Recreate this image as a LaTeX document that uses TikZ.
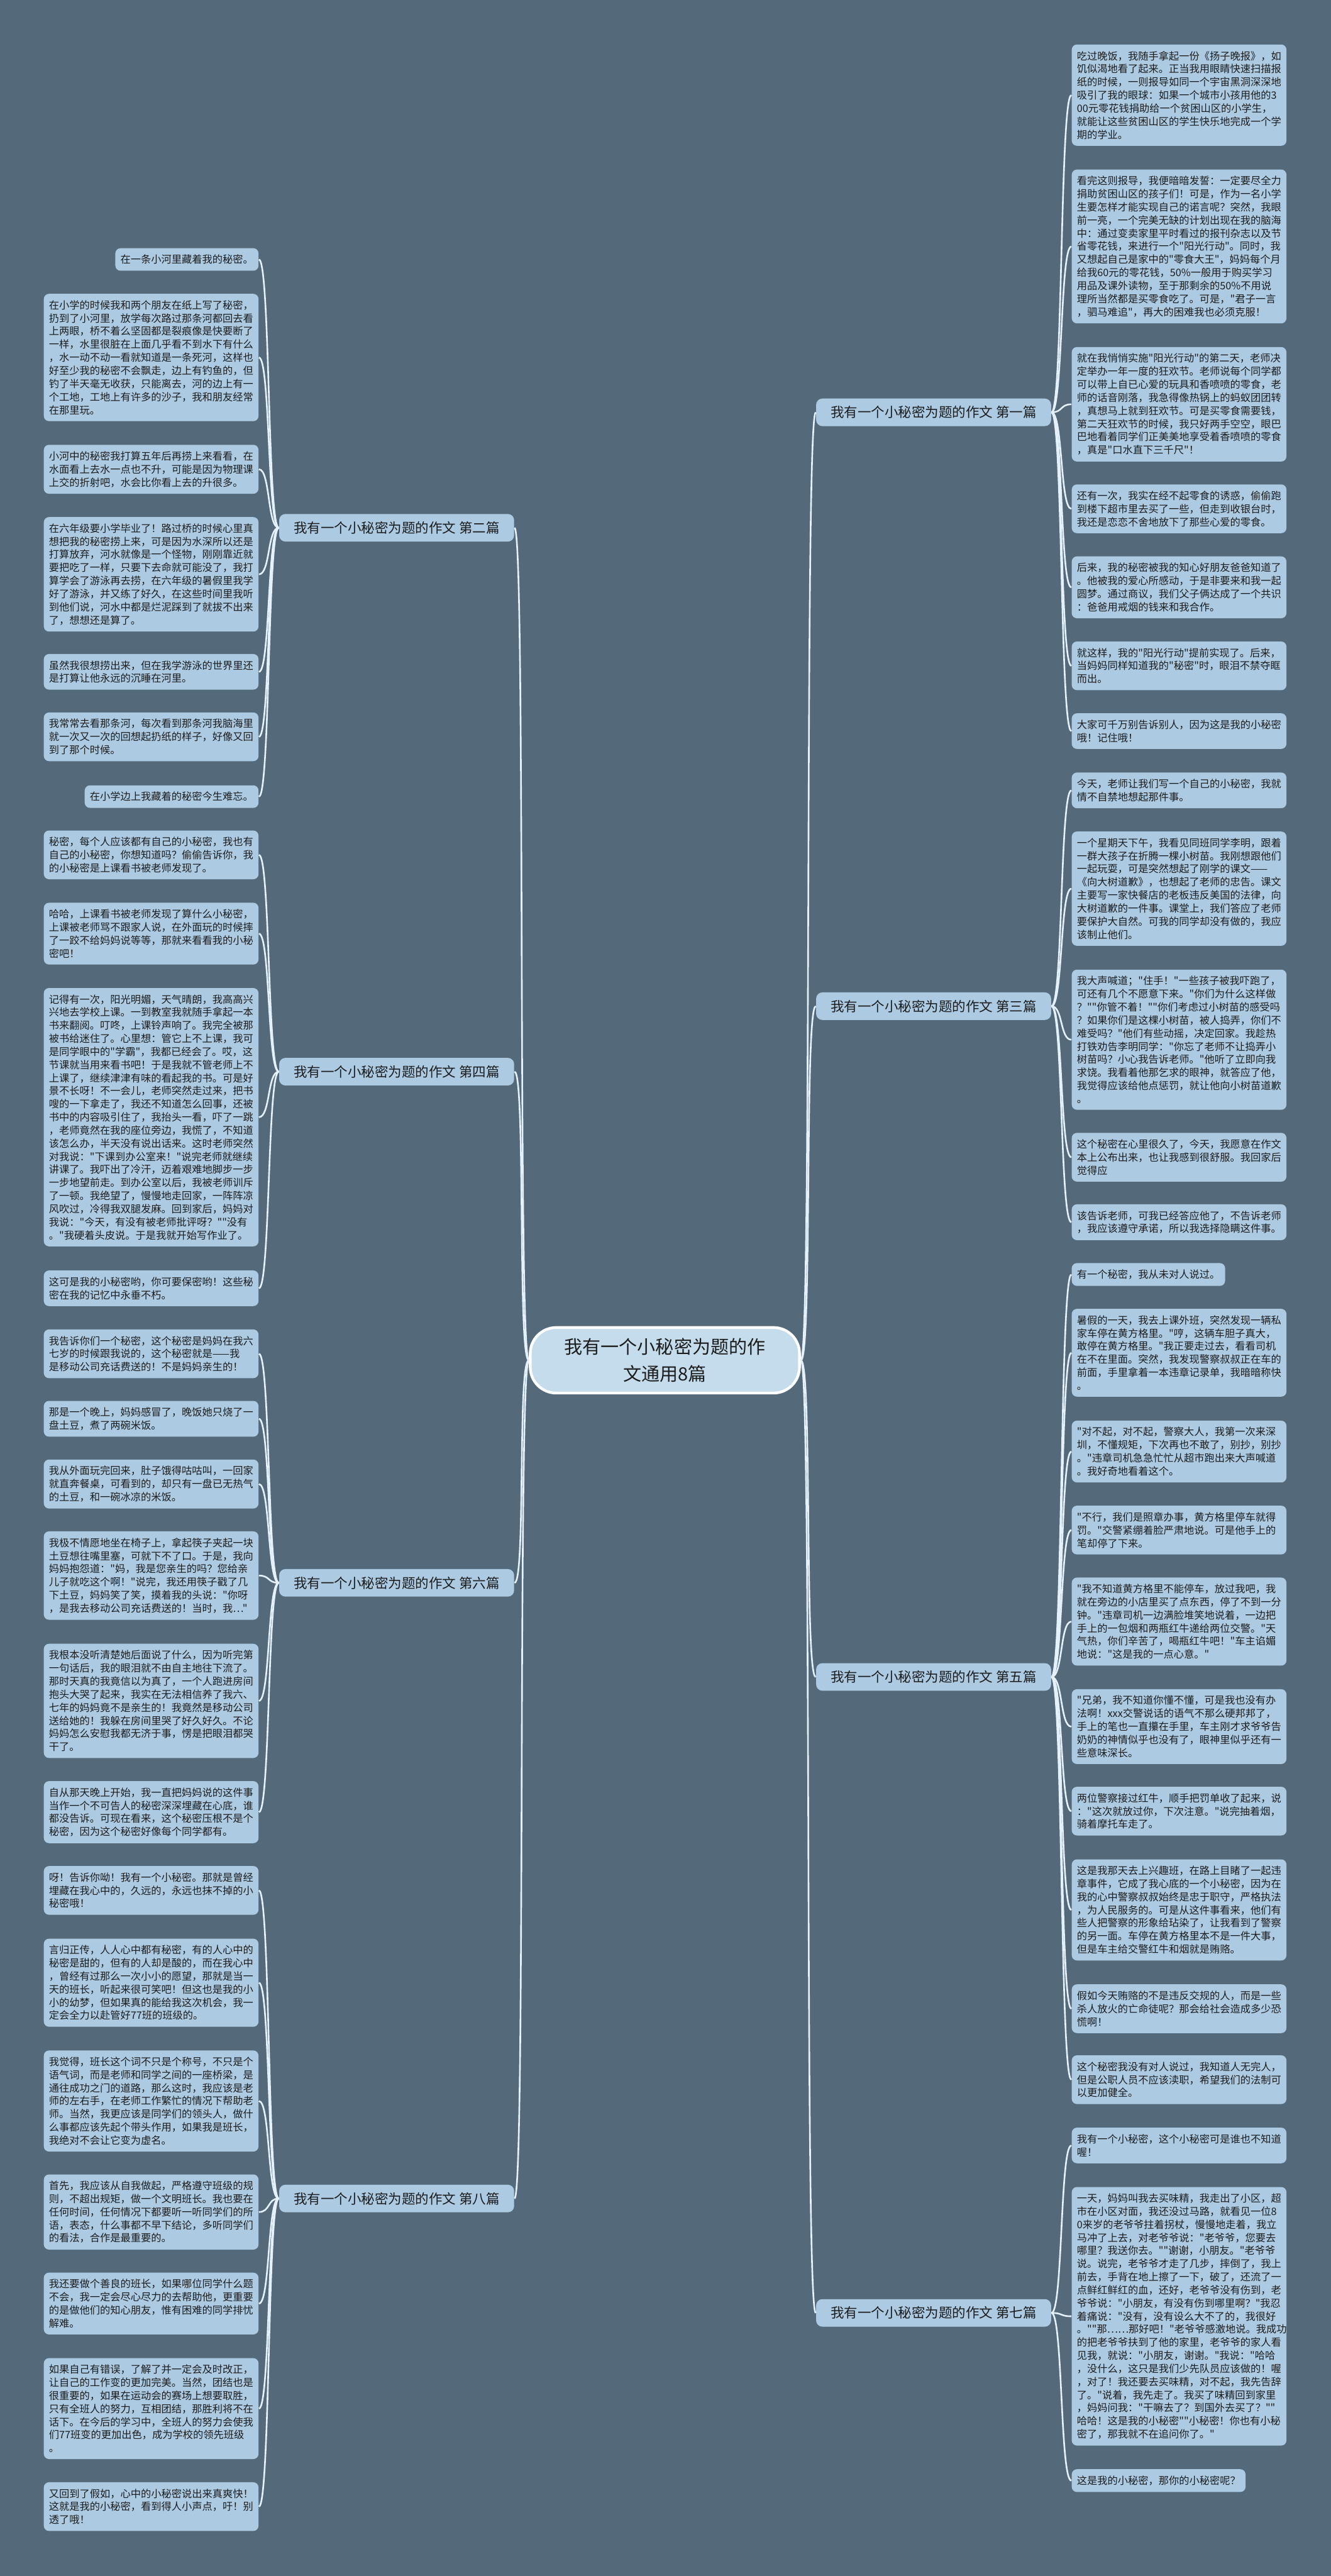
\documentclass[tikz,border=0pt]{standalone}
\usepackage{fontspec}
\usepackage{xcolor}
\usetikzlibrary{positioning}
\newfontfamily\cjk{Noto Sans CJK SC}
\definecolor{bgc}{HTML}{546A7B}
\definecolor{leafc}{HTML}{ACCBE3}
\definecolor{rootc}{HTML}{C4DCEC}
\definecolor{inkc}{HTML}{1C1C1C}
\definecolor{linkc}{HTML}{E4F1FA}

\begin{document}
\begin{tikzpicture}[
    leaf/.style={fill=leafc, rounded corners=0.1cm, text=inkc, inner xsep=0.1cm, inner ysep=0.125cm,
                 text width=3.93cm, align=left, font=\cjk\fontsize{5.59pt}{7.17pt}\selectfont},
    note/.style={fill=leafc, rounded corners=0.1cm, text=inkc, inner xsep=0.1cm, inner ysep=0.125cm,
                 font=\cjk\fontsize{5.59pt}{7.17pt}\selectfont},
    essay/.style={fill=leafc, rounded corners=0.12cm, text=inkc, inner sep=0pt,
                  minimum width=4.52cm, minimum height=0.53cm, font=\cjk\fontsize{7.4pt}{8pt}\selectfont},
    topic/.style={fill=rootc, draw=white, line width=1.5pt, rounded corners=0.5cm, text=inkc,
                  minimum width=5.18cm, minimum height=1.26cm, align=center, inner sep=0pt,
                  font=\cjk\fontsize{10pt}{15pt}\selectfont},
    link/.style={draw=linkc, line width=0.9pt, out distance=0.22cm, in distance=0.22cm}]
\fill[bgc] (0,0) rectangle (25.6,-49.54);
\useasboundingbox (0,0) rectangle (25.6,-49.54);

\node[topic] (root) at (12.79,-26.16) {我有一个小秘密为题的作\\文通用8篇};

\node[essay] (essay1) at (17.96,-7.93)  {我有一个小秘密为题的作文 第一篇};
\node[essay] (essay3) at (17.96,-19.35) {我有一个小秘密为题的作文 第三篇};
\node[essay] (essay5) at (17.96,-32.25) {我有一个小秘密为题的作文 第五篇};
\node[essay] (essay7) at (17.96,-44.48) {我有一个小秘密为题的作文 第七篇};
\node[essay] (essay2) at (7.63,-10.15)  {我有一个小秘密为题的作文 第二篇};
\node[essay] (essay4) at (7.63,-20.61)  {我有一个小秘密为题的作文 第四篇};
\node[essay] (essay6) at (7.63,-30.44)  {我有一个小秘密为题的作文 第六篇};
\node[essay] (essay8) at (7.63,-42.28)  {我有一个小秘密为题的作文 第八篇};

% first essay
\node[leaf, anchor=west] (e1a) at (20.61,-1.83) {吃过晚饭，我随手拿起一份《扬子晚报》，如\\
饥似渴地看了起来。正当我用眼睛快速扫描报\\
纸的时候，一则报导如同一个宇宙黑洞深深地\\
吸引了我的眼球：如果一个城市小孩用他的3\\
00元零花钱捐助给一个贫困山区的小学生，\\
就能让这些贫困山区的学生快乐地完成一个学\\
期的学业。};
\node[leaf, anchor=west] (e1b) at (20.61,-4.74) {看完这则报导，我便暗暗发誓：一定要尽全力\\
捐助贫困山区的孩子们！可是，作为一名小学\\
生要怎样才能实现自己的诺言呢？突然，我眼\\
前一亮，一个完美无缺的计划出现在我的脑海\\
中：通过变卖家里平时看过的报刊杂志以及节\\
省零花钱，来进行一个"阳光行动"。同时，我\\
又想起自己是家中的"零食大王"，妈妈每个月\\
给我60元的零花钱，50\%一般用于购买学习\\
用品及课外读物，至于那剩余的50\%不用说\\
理所当然都是买零食吃了。可是，"君子一言\\
，驷马难追"，再大的困难我也必须克服！};
\node[leaf, anchor=west] (e1c) at (20.61,-7.775) {就在我悄悄实施"阳光行动"的第二天，老师决\\
定举办一年一度的狂欢节。老师说每个同学都\\
可以带上自已心爱的玩具和香喷喷的零食，老\\
师的话音刚落，我急得像热锅上的蚂蚁团团转\\
，真想马上就到狂欢节。可是买零食需要钱，\\
第二天狂欢节的时候，我只好两手空空，眼巴\\
巴地看着同学们正美美地享受着香喷喷的零食\\
，真是"口水直下三千尺"！};
\node[leaf, anchor=west] (e1d) at (20.61,-9.785) {还有一次，我实在经不起零食的诱惑，偷偷跑\\
到楼下超市里去买了一些，但走到收银台时，\\
我还是恋恋不舍地放下了那些心爱的零食。};
\node[leaf, anchor=west] (e1e) at (20.61,-11.295) {后来，我的秘密被我的知心好朋友爸爸知道了\\
。他被我的爱心所感动，于是非要来和我一起\\
圆梦。通过商议，我们父子俩达成了一个共识\\
：爸爸用戒烟的钱来和我合作。};
\node[leaf, anchor=west] (e1f) at (20.61,-12.805) {就这样，我的"阳光行动"提前实现了。后来，\\
当妈妈同样知道我的"秘密"时，眼泪不禁夺眶\\
而出。};
\node[leaf, anchor=west] (e1g) at (20.61,-14.06) {大家可千万别告诉别人，因为这是我的小秘密\\
哦！记住哦！};

% third essay
\node[leaf, anchor=west] (e3a) at (20.61,-15.2) {今天，老师让我们写一个自己的小秘密，我就\\
情不自禁地想起那件事。};
\node[leaf, anchor=west] (e3b) at (20.61,-17.09) {一个星期天下午，我看见同班同学李明，跟着\\
一群大孩子在折腾一棵小树苗。我刚想跟他们\\
一起玩耍，可是突然想起了刚学的课文——\\
《向大树道歉》，也想起了老师的忠告。课文\\
主要写一家快餐店的老板违反美国的法律，向\\
大树道歉的一件事。课堂上，我们答应了老师\\
要保护大自然。可我的同学却没有做的，我应\\
该制止他们。};
\node[leaf, anchor=west] (e3c) at (20.61,-19.995) {我大声喊道；"住手！"一些孩子被我吓跑了，\\
可还有几个不愿意下来。"你们为什么这样做\\
？""你管不着！""你们考虑过小树苗的感受吗\\
？如果你们是这棵小树苗，被人捣弄，你们不\\
难受吗？"他们有些动摇，决定回家。我趁热\\
打铁劝告李明同学："你忘了老师不让捣弄小\\
树苗吗？小心我告诉老师。"他听了立即向我\\
求饶。我看着他那乞求的眼神，就答应了他，\\
我觉得应该给他点惩罚，就让他向小树苗道歉\\
。};
\node[leaf, anchor=west] (e3d) at (20.61,-22.255) {这个秘密在心里很久了，今天，我愿意在作文\\
本上公布出来，也让我感到很舒服。我回家后\\
觉得应};
\node[leaf, anchor=west] (e3e) at (20.61,-23.505) {该告诉老师，可我已经答应他了，不告诉老师\\
，我应该遵守承诺，所以我选择隐瞒这件事。};

% fifth essay
\node[note, anchor=west] (e5a) at (20.61,-24.51) {有一个秘密，我从未对人说过。};
\node[leaf, anchor=west] (e5b) at (20.61,-26.015) {暑假的一天，我去上课外班，突然发现一辆私\\
家车停在黄方格里。"哼，这辆车胆子真大，\\
敢停在黄方格里。"我正要走过去，看看司机\\
在不在里面。突然，我发现警察叔叔正在车的\\
前面，手里拿着一本违章记录单，我暗暗称快\\
。};
\node[leaf, anchor=west] (e5c) at (20.61,-27.915) {"对不起，对不起，警察大人，我第一次来深\\
圳，不懂规矩，下次再也不敢了，别抄，别抄\\
。"违章司机急急忙忙从超市跑出来大声喊道\\
。我好奇地看着这个。};
\node[leaf, anchor=west] (e5d) at (20.61,-29.425) {"不行，我们是照章办事，黄方格里停车就得\\
罚。"交警紧绷着脸严肃地说。可是他手上的\\
笔却停了下来。};
\node[leaf, anchor=west] (e5e) at (20.61,-31.185) {"我不知道黄方格里不能停车，放过我吧，我\\
就在旁边的小店里买了点东西，停了不到一分\\
钟。"违章司机一边满脸堆笑地说着，一边把\\
手上的一包烟和两瓶红牛递给两位交警。"天\\
气热，你们辛苦了，喝瓶红牛吧！"车主谄媚\\
地说："这是我的一点心意。"};
\node[leaf, anchor=west] (e5f) at (20.61,-33.205) {"兄弟，我不知道你懂不懂，可是我也没有办\\
法啊！xxx交警说话的语气不那么硬邦邦了，\\
手上的笔也一直攥在手里，车主刚才求爷爷告\\
奶奶的神情似乎也没有了，眼神里似乎还有一\\
些意味深长。};
\node[leaf, anchor=west] (e5g) at (20.61,-34.83) {两位警察接过红牛，顺手把罚单收了起来，说\\
："这次就放过你，下次注意。"说完抽着烟，\\
骑着摩托车走了。};
\node[leaf, anchor=west] (e5h) at (20.61,-36.73) {这是我那天去上兴趣班，在路上目睹了一起违\\
章事件，它成了我心底的一个小秘密，因为在\\
我的心中警察叔叔始终是忠于职守，严格执法\\
，为人民服务的。可是从这件事看来，他们有\\
些人把警察的形象给玷染了，让我看到了警察\\
的另一面。车停在黄方格里本不是一件大事，\\
但是车主给交警红牛和烟就是贿赂。};
\node[leaf, anchor=west] (e5i) at (20.61,-38.63) {假如今天贿赂的不是违反交规的人，而是一些\\
杀人放火的亡命徒呢？那会给社会造成多少恐\\
慌啊！};
\node[leaf, anchor=west] (e5j) at (20.61,-39.995) {这个秘密我没有对人说过，我知道人无完人，\\
但是公职人员不应该渎职，希望我们的法制可\\
以更加健全。};

% seventh essay
\node[leaf, anchor=west] (e7a) at (20.61,-41.26) {我有一个小秘密，这个小秘密可是谁也不知道\\
喔！};
\node[leaf, anchor=west] (e7b) at (20.61,-44.545) {一天，妈妈叫我去买味精，我走出了小区，超\\
市在小区对面，我还没过马路，就看见一位8\\
0来岁的老爷爷拄着拐杖，慢慢地走着，我立\\
马冲了上去，对老爷爷说："老爷爷，您要去\\
哪里？我送你去。""谢谢，小朋友。"老爷爷\\
说。说完，老爷爷才走了几步，摔倒了，我上\\
前去，手背在地上擦了一下，破了，还流了一\\
点鲜红鲜红的血，还好，老爷爷没有伤到，老\\
爷爷说："小朋友，有没有伤到哪里啊？"我忍\\
着痛说："没有，没有设么大不了的，我很好\\
。""那……那好吧！"老爷爷感激地说。我成功\\
的把老爷爷扶到了他的家里，老爷爷的家人看\\
见我，就说："小朋友，谢谢。"我说："哈哈\\
，没什么，这只是我们少先队员应该做的！喔\\
，对了！我还要去买味精，对不起，我先告辞\\
了。"说着，我先走了。我买了味精回到家里\\
，妈妈问我："干嘛去了？到国外去买了？""\\
哈哈！这是我的小秘密""小秘密！你也有小秘\\
密了，那我就不在追问你了。"};
\node[note, anchor=west] (e7c) at (20.61,-47.705) {这是我的小秘密，那你的小秘密呢？};

% second essay
\node[note, anchor=east] (e2a) at (4.98,-4.99) {在一条小河里藏着我的秘密。};
\node[leaf, anchor=east] (e2b) at (4.98,-6.875) {在小学的时候我和两个朋友在纸上写了秘密，\\
扔到了小河里，放学每次路过那条河都回去看\\
上两眼，桥不着么坚固都是裂痕像是快要断了\\
一样，水里很脏在上面几乎看不到水下有什么\\
，水一动不动一看就知道是一条死河，这样也\\
好至少我的秘密不会飘走，边上有钓鱼的，但\\
钓了半天毫无收获，只能离去，河的边上有一\\
个工地，工地上有许多的沙子，我和朋友经常\\
在那里玩。};
\node[leaf, anchor=east] (e2c) at (4.98,-9.025) {小河中的秘密我打算五年后再捞上来看看，在\\
水面看上去水一点也不升，可能是因为物理课\\
上交的折射吧，水会比你看上去的升很多。};
\node[leaf, anchor=east] (e2d) at (4.98,-11.045) {在六年级要小学毕业了！路过桥的时候心里真\\
想把我的秘密捞上来，可是因为水深所以还是\\
打算放弃，河水就像是一个怪物，刚刚靠近就\\
要把吃了一样，只要下去命就可能没了，我打\\
算学会了游泳再去捞，在六年级的暑假里我学\\
好了游泳，并又练了好久，在这些时间里我听\\
到他们说，河水中都是烂泥踩到了就拔不出来\\
了，想想还是算了。};
\node[leaf, anchor=east] (e2e) at (4.98,-12.92) {虽然我很想捞出来，但在我学游泳的世界里还\\
是打算让他永远的沉睡在河里。};
\node[leaf, anchor=east] (e2f) at (4.98,-14.17) {我常常去看那条河，每次看到那条河我脑海里\\
就一次又一次的回想起扔纸的样子，好像又回\\
到了那个时候。};
\node[note, anchor=east] (e2g) at (4.98,-15.32) {在小学边上我藏着的秘密今生难忘。};

% fourth essay
\node[leaf, anchor=east] (e4a) at (4.98,-16.44) {秘密，每个人应该都有自己的小秘密，我也有\\
自己的小秘密，你想知道吗？偷偷告诉你，我\\
的小秘密是上课看书被老师发现了。};
\node[leaf, anchor=east] (e4b) at (4.98,-17.955) {哈哈，上课看书被老师发现了算什么小秘密，\\
上课被老师骂不跟家人说，在外面玩的时候摔\\
了一跤不给妈妈说等等，那就来看看我的小秘\\
密吧！};
\node[leaf, anchor=east] (e4c) at (4.98,-21.485) {记得有一次，阳光明媚，天气晴朗，我高高兴\\
兴地去学校上课。一到教室我就随手拿起一本\\
书来翻阅。叮咚，上课铃声响了。我完全被那\\
被书给迷住了。心里想：管它上不上课，我可\\
是同学眼中的"学霸"，我都已经会了。哎，这\\
节课就当用来看书吧！于是我就不管老师上不\\
上课了，继续津津有味的看起我的书。可是好\\
景不长呀！不一会儿，老师突然走过来，把书\\
嗖的一下拿走了，我还不知道怎么回事，还被\\
书中的内容吸引住了，我抬头一看，吓了一跳\\
，老师竟然在我的座位旁边，我慌了，不知道\\
该怎么办，半天没有说出话来。这时老师突然\\
对我说："下课到办公室来！"说完老师就继续\\
讲课了。我吓出了冷汗，迈着艰难地脚步一步\\
一步地望前走。到办公室以后，我被老师训斥\\
了一顿。我绝望了，慢慢地走回家，一阵阵凉\\
风吹过，冷得我双腿发麻。回到家后，妈妈对\\
我说："今天，有没有被老师批评呀？""没有\\
。"我硬着头皮说。于是我就开始写作业了。};
\node[leaf, anchor=east] (e4d) at (4.98,-24.775) {这可是我的小秘密哟，你可要保密哟！这些秘\\
密在我的记忆中永垂不朽。};

% sixth essay
\node[leaf, anchor=east] (e6a) at (4.98,-26.035) {我告诉你们一个秘密，这个秘密是妈妈在我六\\
七岁的时候跟我说的，这个秘密就是——我\\
是移动公司充话费送的！不是妈妈亲生的！};
\node[leaf, anchor=east] (e6b) at (4.98,-27.285) {那是一个晚上，妈妈感冒了，晚饭她只烧了一\\
盘土豆，煮了两碗米饭。};
\node[leaf, anchor=east] (e6c) at (4.98,-28.54) {我从外面玩完回来，肚子饿得咕咕叫，一回家\\
就直奔餐桌，可看到的，却只有一盘已无热气\\
的土豆，和一碗冰凉的米饭。};
\node[leaf, anchor=east] (e6d) at (4.98,-30.3) {我极不情愿地坐在椅子上，拿起筷子夹起一块\\
土豆想往嘴里塞，可就下不了口。于是，我向\\
妈妈抱怨道："妈，我是您亲生的吗？您给亲\\
儿子就吃这个啊！"说完，我还用筷子戳了几\\
下土豆，妈妈笑了笑，摸着我的头说："你呀\\
，是我去移动公司充话费送的！当时，我…"};
\node[leaf, anchor=east] (e6e) at (4.98,-32.71) {我根本没听清楚她后面说了什么，因为听完第\\
一句话后，我的眼泪就不由自主地往下流了。\\
那时天真的我竟信以为真了，一个人跑进房间\\
抱头大哭了起来，我实在无法相信养了我六、\\
七年的妈妈竟不是亲生的！我竟然是移动公司\\
送给她的！我躲在房间里哭了好久好久。不论\\
妈妈怎么安慰我都无济于事，愣是把眼泪都哭\\
干了。};
\node[leaf, anchor=east] (e6f) at (4.98,-34.85) {自从那天晚上开始，我一直把妈妈说的这件事\\
当作一个不可告人的秘密深深埋藏在心底，谁\\
都没告诉。可现在看来，这个秘密压根不是个\\
秘密，因为这个秘密好像每个同学都有。};

% eighth essay
\node[leaf, anchor=east] (e8a) at (4.98,-36.355) {呀！告诉你呦！我有一个小秘密。那就是曾经\\
埋藏在我心中的，久远的，永远也抹不掉的小\\
秘密哦！};
\node[leaf, anchor=east] (e8b) at (4.98,-38.13) {言归正传，人人心中都有秘密，有的人心中的\\
秘密是甜的，但有的人却是酸的，而在我心中\\
，曾经有过那么一次小小的愿望，那就是当一\\
天的班长，听起来很可笑吧！但这也是我的小\\
小的幼梦，但如果真的能给我这次机会，我一\\
定会全力以赴管好77班的班级的。};
\node[leaf, anchor=east] (e8c) at (4.98,-40.405) {我觉得，班长这个词不只是个称号，不只是个\\
语气词，而是老师和同学之间的一座桥梁，是\\
通往成功之门的道路，那么这时，我应该是老\\
师的左右手，在老师工作繁忙的情况下帮助老\\
师。当然，我更应该是同学们的领头人，做什\\
么事都应该先起个带头作用，如果我是班长，\\
我绝对不会让它变为虚名。};
\node[leaf, anchor=east] (e8d) at (4.98,-42.54) {首先，我应该从自我做起，严格遵守班级的规\\
则，不超出规矩，做一个文明班长。我也要在\\
任何时间，任何情况下都要听一听同学们的所\\
语，表态，什么事都不早下结论，多听同学们\\
的看法，合作是最重要的。};
\node[leaf, anchor=east] (e8e) at (4.98,-44.3) {我还要做个善良的班长，如果哪位同学什么题\\
不会，我一定会尽心尽力的去帮助他，更重要\\
的是做他们的知心朋友，惟有困难的同学排忧\\
解难。};
\node[leaf, anchor=east] (e8f) at (4.98,-46.32) {如果自己有错误，了解了并一定会及时改正，\\
让自己的工作变的更加完美。当然，团结也是\\
很重要的，如果在运动会的赛场上想要取胜，\\
只有全班人的努力，互相团结，那胜利将不在\\
话下。在今后的学习中，全班人的努力会使我\\
们77班变的更加出色，成为学校的领先班级\\
。};
\node[leaf, anchor=east] (e8g) at (4.98,-48.205) {又回到了假如，心中的小秘密说出来真爽快！\\
这就是我的小秘密，看到得人小声点，吁！别\\
透了哦！};

% topic to essays
\draw[link] (root.east) to[out=0, in=180] (essay1.west);
\draw[link] (root.east) to[out=0, in=180] (essay3.west);
\draw[link] (root.east) to[out=0, in=180] (essay5.west);
\draw[link] (root.east) to[out=0, in=180] (essay7.west);
\draw[link] (root.west) to[out=180, in=0] (essay2.east);
\draw[link] (root.west) to[out=180, in=0] (essay4.east);
\draw[link] (root.west) to[out=180, in=0] (essay6.east);
\draw[link] (root.west) to[out=180, in=0] (essay8.east);

% essays to paragraphs
\draw[link] (essay1.east) to[out=0, in=180] (e1a.west);
\draw[link] (essay1.east) to[out=0, in=180] (e1b.west);
\draw[link] (essay1.east) to[out=0, in=180] (e1c.west);
\draw[link] (essay1.east) to[out=0, in=180] (e1d.west);
\draw[link] (essay1.east) to[out=0, in=180] (e1e.west);
\draw[link] (essay1.east) to[out=0, in=180] (e1f.west);
\draw[link] (essay1.east) to[out=0, in=180] (e1g.west);
\draw[link] (essay3.east) to[out=0, in=180] (e3a.west);
\draw[link] (essay3.east) to[out=0, in=180] (e3b.west);
\draw[link] (essay3.east) to[out=0, in=180] (e3c.west);
\draw[link] (essay3.east) to[out=0, in=180] (e3d.west);
\draw[link] (essay3.east) to[out=0, in=180] (e3e.west);
\draw[link] (essay5.east) to[out=0, in=180] (e5a.west);
\draw[link] (essay5.east) to[out=0, in=180] (e5b.west);
\draw[link] (essay5.east) to[out=0, in=180] (e5c.west);
\draw[link] (essay5.east) to[out=0, in=180] (e5d.west);
\draw[link] (essay5.east) to[out=0, in=180] (e5e.west);
\draw[link] (essay5.east) to[out=0, in=180] (e5f.west);
\draw[link] (essay5.east) to[out=0, in=180] (e5g.west);
\draw[link] (essay5.east) to[out=0, in=180] (e5h.west);
\draw[link] (essay5.east) to[out=0, in=180] (e5i.west);
\draw[link] (essay5.east) to[out=0, in=180] (e5j.west);
\draw[link] (essay7.east) to[out=0, in=180] (e7a.west);
\draw[link] (essay7.east) to[out=0, in=180] (e7b.west);
\draw[link] (essay7.east) to[out=0, in=180] (e7c.west);
\draw[link] (essay2.west) to[out=180, in=0] (e2a.east);
\draw[link] (essay2.west) to[out=180, in=0] (e2b.east);
\draw[link] (essay2.west) to[out=180, in=0] (e2c.east);
\draw[link] (essay2.west) to[out=180, in=0] (e2d.east);
\draw[link] (essay2.west) to[out=180, in=0] (e2e.east);
\draw[link] (essay2.west) to[out=180, in=0] (e2f.east);
\draw[link] (essay2.west) to[out=180, in=0] (e2g.east);
\draw[link] (essay4.west) to[out=180, in=0] (e4a.east);
\draw[link] (essay4.west) to[out=180, in=0] (e4b.east);
\draw[link] (essay4.west) to[out=180, in=0] (e4c.east);
\draw[link] (essay4.west) to[out=180, in=0] (e4d.east);
\draw[link] (essay6.west) to[out=180, in=0] (e6a.east);
\draw[link] (essay6.west) to[out=180, in=0] (e6b.east);
\draw[link] (essay6.west) to[out=180, in=0] (e6c.east);
\draw[link] (essay6.west) to[out=180, in=0] (e6d.east);
\draw[link] (essay6.west) to[out=180, in=0] (e6e.east);
\draw[link] (essay6.west) to[out=180, in=0] (e6f.east);
\draw[link] (essay8.west) to[out=180, in=0] (e8a.east);
\draw[link] (essay8.west) to[out=180, in=0] (e8b.east);
\draw[link] (essay8.west) to[out=180, in=0] (e8c.east);
\draw[link] (essay8.west) to[out=180, in=0] (e8d.east);
\draw[link] (essay8.west) to[out=180, in=0] (e8e.east);
\draw[link] (essay8.west) to[out=180, in=0] (e8f.east);
\draw[link] (essay8.west) to[out=180, in=0] (e8g.east);
\end{tikzpicture}
\end{document}
